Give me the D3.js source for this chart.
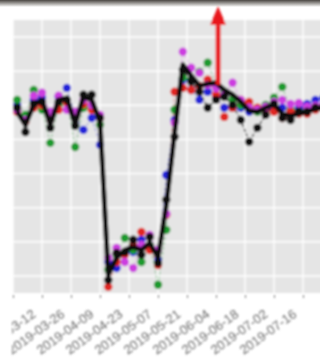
<!DOCTYPE html>
<html>
<head>
<meta charset="utf-8">
<script src="https://cdn.jsdelivr.net/npm/d3@7"></script>
<style>
  body { margin: 0; background: #fff; }
  svg { display: block; font-family: "DejaVu Sans", sans-serif; }
</style>
</head>
<body>
<svg width="320" height="360"></svg>
<script>
const dates = ["2019-02-28","2019-03-04","2019-03-08","2019-03-12","2019-03-16","2019-03-20","2019-03-24","2019-03-28",
  "2019-04-01","2019-04-05","2019-04-09","2019-04-13","2019-04-17","2019-04-21","2019-04-25","2019-04-29",
  "2019-05-03","2019-05-07","2019-05-11","2019-05-15","2019-05-19","2019-05-23","2019-05-27","2019-05-31",
  "2019-06-04","2019-06-08","2019-06-12","2019-06-16","2019-06-20","2019-06-24","2019-06-28","2019-07-02",
  "2019-07-06","2019-07-10","2019-07-14","2019-07-18","2019-07-22","2019-07-26"];

const meanVals = [48.1,44.3,50.1,51.6,44.3,51.6,52.2,44.3,52.5,51.6,45.2,0.3,5.3,7.6,8.5,7.6,9.7,5.3,20.8,41.9,
  61.9,58.7,55.7,56.3,56.6,54.5,53.1,51.0,48.4,48.1,49.3,50.4,47.5,46.9,47.5,48.1,49.0,49.3];
const blackVals = [49.3,42.2,50.4,51.0,43.4,51.0,51.6,44.0,53.1,53.1,46.3,-1.2,6.7,7.0,10.6,6.2,11.4,3.8,22.3,40.8,
  60.4,56.9,54.0,49.3,51.6,52.5,50.1,45.7,39.3,43.4,47.2,50.4,46.3,45.7,48.1,48.1,49.3,49.6];
const redVals = [48.1,45.2,49.3,50.1,45.7,48.7,50.7,46.3,50.4,48.7,46.3,-3.2,4.1,6.2,9.1,12.9,7.6,3.2,17.9,54.0,
  55.1,54.5,55.7,57.5,53.1,46.6,49.3,51.6,51.0,49.3,48.7,48.1,46.3,48.1,47.5,47.5,48.7,49.3];
const greenVals = [51.6,47.2,54.5,48.7,39.0,50.1,51.6,37.8,49.3,49.9,44.3,1.8,6.2,11.1,7.6,4.1,9.1,-2.6,13.5,48.7,
  58.1,57.5,59.8,62.5,56.0,54.0,51.6,50.1,49.3,48.1,50.1,52.2,55.4,48.7,48.1,48.7,49.3,49.9];
const blueVals = [50.1,46.3,51.6,52.2,45.7,52.5,55.1,47.2,42.8,46.3,38.4,4.1,2.3,6.2,7.0,10.6,8.2,4.7,29.6,45.7,
  57.5,54.5,51.6,54.0,52.5,49.3,49.3,49.3,48.1,48.7,49.9,49.3,49.3,48.1,49.3,50.4,51.6,52.2];
const magentaVals = [48.7,45.7,52.8,53.7,48.1,52.8,48.7,48.1,51.6,50.1,47.2,5.3,8.2,4.1,2.3,9.1,12.0,7.6,18.2,44.9,
  65.7,61.0,59.5,56.0,55.1,53.1,56.6,51.6,49.3,48.7,49.6,51.0,51.6,50.4,50.7,49.6,49.9,50.4];

const tickDates = ["2019-02-26","2019-03-12","2019-03-26","2019-04-09","2019-04-23","2019-05-07",
  "2019-05-21","2019-06-04","2019-06-18","2019-07-02","2019-07-16"];
const yGrid = [0, 10, 20, 30, 40, 50, 60, 70];

const series = [
  {name: "blue", color: "#2323d8", values: blueVals},
  {name: "green", color: "#1e9a2e", values: greenVals},
  {name: "red", color: "#e02520", values: redVals},
  {name: "magenta", color: "#cc3ee0", values: magentaVals}
];

const parse = d3.utcParse("%Y-%m-%d");
const svg = d3.select("svg");

const panel = {left: 13, top: 20, right: 336, bottom: 293};

const x = d3.scaleUtc()
    .domain([parse("2019-02-26"), parse("2019-08-01")])
    .range([panel.left, panel.left + 156 * 29 / 14]);

const y = d3.scaleLinear()
    .domain([-5, 75])
    .range([panel.bottom, panel.top]);

// screenshot frame at the top
const defs = svg.append("defs");
const grad = defs.append("linearGradient").attr("id", "frame").attr("x1", 0).attr("x2", 0).attr("y1", 0).attr("y2", 1);
grad.append("stop").attr("offset", "0%").attr("stop-color", "#4a4642");
grad.append("stop").attr("offset", "60%").attr("stop-color", "#b5b3b0");
grad.append("stop").attr("offset", "100%").attr("stop-color", "#ffffff");
defs.append("filter").attr("id", "soft")
    .attr("x", "-5%").attr("y", "-5%").attr("width", "110%").attr("height", "110%")
  .append("feGaussianBlur").attr("stdDeviation", 1.1);

svg.append("rect").attr("width", 320).attr("height", 7).attr("fill", "url(#frame)");

const g = svg.append("g").attr("filter", "url(#soft)");

g.append("rect")
    .attr("x", panel.left).attr("y", panel.top)
    .attr("width", panel.right - panel.left).attr("height", panel.bottom - panel.top)
    .attr("fill", "#e5e5e5");

g.append("g").selectAll("line")
  .data(yGrid)
  .join("line")
    .attr("x1", panel.left).attr("x2", panel.right)
    .attr("y1", d => y(d)).attr("y2", d => y(d))
    .attr("stroke", "#fff").attr("stroke-width", 1.4);

g.append("g").selectAll("line")
  .data(tickDates)
  .join("line")
    .attr("x1", d => x(parse(d))).attr("x2", d => x(parse(d)))
    .attr("y1", panel.top).attr("y2", panel.bottom)
    .attr("stroke", "#fff").attr("stroke-width", 1.4);

// x axis, labels clipped on the left like the cropped original
const labelClip = defs.append("clipPath").attr("id", "labelclip");
labelClip.append("rect").attr("x", 12).attr("y", 0).attr("width", 400).attr("height", 400);

const xAxis = g.append("g")
    .attr("clip-path", "url(#labelclip)")
  .append("g")
    .attr("transform", `translate(0,${panel.bottom})`)
    .call(d3.axisBottom(x)
      .tickValues(tickDates.map(parse))
      .tickFormat(d3.utcFormat("%Y-%m-%d"))
      .tickSize(4)
      .tickPadding(0));
xAxis.select(".domain").remove();
xAxis.selectAll(".tick line").attr("stroke", "#777").attr("y1", 2).attr("y2", 5);
xAxis.selectAll(".tick text")
    .attr("fill", "#6a6a6a")
    .style("font-size", "13px")
    .attr("text-anchor", "end")
    .attr("y", 0)
    .attr("dy", 0)
    .attr("transform", "translate(-6,23) rotate(-36)");

const clip = defs.append("clipPath").attr("id", "panelclip");
clip.append("rect").attr("x", panel.left).attr("y", 0).attr("width", 400).attr("height", panel.bottom + 6);

const plot = g.append("g").attr("clip-path", "url(#panelclip)");

const line = vals => d3.line()
    .x((d, i) => x(parse(dates[i])))
    .y(d => y(d))(vals);

// colored series: faint dashed lines + points
series.forEach(s => {
  plot.append("path")
      .attr("d", line(s.values))
      .attr("fill", "none")
      .attr("stroke", s.color)
      .attr("stroke-opacity", 0.5)
      .attr("stroke-width", 1)
      .attr("stroke-dasharray", "3,2");
});
series.forEach(s => {
  plot.append("g").selectAll("circle")
    .data(s.values)
    .join("circle")
      .attr("cx", (d, i) => x(parse(dates[i])))
      .attr("cy", d => y(d))
      .attr("r", 4.2)
      .attr("fill", s.color);
});

// black dashed series
plot.append("path")
    .attr("d", line(blackVals))
    .attr("fill", "none")
    .attr("stroke", "#111")
    .attr("stroke-width", 1.3)
    .attr("stroke-dasharray", "3,2");
plot.append("g").selectAll("circle")
  .data(blackVals)
  .join("circle")
    .attr("cx", (d, i) => x(parse(dates[i])))
    .attr("cy", d => y(d))
    .attr("r", 4.2)
    .attr("fill", "#111");

// mean line
plot.append("path")
    .attr("d", line(meanVals))
    .attr("fill", "none")
    .attr("stroke", "#0a0a0a")
    .attr("stroke-width", 5)
    .attr("stroke-linejoin", "round");

// red arrow annotation
const ax = x(parse("2019-06-05"));
g.append("line")
    .attr("x1", ax).attr("x2", ax)
    .attr("y1", y(56)).attr("y2", y(73.5))
    .attr("stroke", "#e8161b").attr("stroke-width", 5);
g.append("path")
    .attr("d", `M${ax},${y(79)} L${ax - 8},${y(73.5)} L${ax + 8},${y(73.5)} Z`)
    .attr("fill", "#e8161b");
</script>
</body>
</html>
